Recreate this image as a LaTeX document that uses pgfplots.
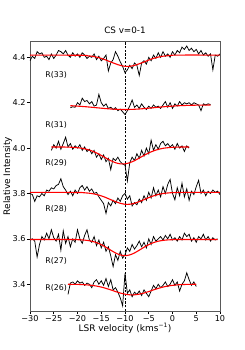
\documentclass[border=0pt]{standalone}
\usepackage{pgfplots}
\pgfplotsset{compat=1.18}
\usepackage{pgfplotstable}
\usepackage{fontspec}
\setmainfont{DejaVu Sans}

\pgfplotstableread{
x y
-30 4.385
-29.5 4.405
-29 4.395
-28.5 4.425
-28 4.415
-27.5 4.420
-27 4.400
-26.5 4.405
-26 4.390
-25.5 4.415
-25 4.395
-24.5 4.410
-24 4.430
-23.5 4.425
-23 4.415
-22.5 4.430
-22 4.410
-21.5 4.400
-21 4.420
-20.5 4.405
-20 4.415
-19.5 4.400
-19 4.420
-18.5 4.410
-18 4.395
-17.5 4.405
-17 4.400
-16.5 4.415
-16 4.390
-15.5 4.405
-15 4.385
-14.5 4.395
-14 4.410
-13.5 4.340
-13 4.375
-12.5 4.390
-12 4.425
-11.5 4.405
-11 4.380
-10.5 4.360
-10 4.332
-9.5 4.345
-9 4.365
-8.5 4.350
-8 4.375
-7.5 4.365
-7 4.320
-6.5 4.375
-6 4.385
-5.5 4.370
-5 4.400
-4.5 4.385
-4 4.410
-3.5 4.395
-3 4.420
-2.5 4.400
-2 4.425
-1.5 4.405
-1 4.415
-0.5 4.400
0 4.425
0.5 4.410
1 4.430
1.5 4.420
2 4.445
2.5 4.435
3 4.450
3.5 4.430
4 4.440
4.5 4.425
5 4.435
5.5 4.415
6 4.430
6.5 4.410
7 4.420
7.5 4.405
8 4.415
8.5 4.345
9 4.410
9.5 4.405
10 4.415
}\specA

\pgfplotstableread{
x y
-30 4.410
-19 4.409
-18 4.407
-17 4.405
-16 4.401
-15 4.3955
-14 4.388
-13 4.3795
-12 4.3715
-11 4.3645
-10 4.3605
-9 4.3605
-8 4.3645
-7 4.3715
-6 4.3795
-5 4.388
-4 4.3955
-3 4.401
-2 4.405
-1 4.407
0 4.409
1 4.410
10 4.410
}\fitA

\pgfplotstableread{
x y
-21.5 4.178
-21 4.182
-20.5 4.180
-20 4.200
-19.5 4.190
-19 4.220
-18.5 4.205
-18 4.210
-17.5 4.195
-17 4.205
-16.5 4.185
-16 4.190
-15.5 4.237
-15 4.200
-14.5 4.185
-14 4.195
-13.5 4.175
-13 4.180
-12.5 4.170
-12 4.178
-11.5 4.165
-11 4.172
-10.5 4.160
-10 4.148
-9.5 4.165
-9 4.185
-8.5 4.212
-8 4.180
-7.5 4.190
-7 4.175
-6.5 4.195
-6 4.180
-5.5 4.170
-5 4.185
-4.5 4.175
-4 4.190
-3.5 4.180
-3 4.185
-2.5 4.175
-2 4.190
-1.5 4.205
-1 4.180
-0.5 4.200
0 4.175
0.5 4.195
1 4.185
1.5 4.205
2 4.190
2.5 4.200
3 4.195
3.5 4.200
4 4.190
4.5 4.200
5 4.195
5.5 4.190
6 4.165
6.5 4.195
7 4.190
7.5 4.195
8 4.192
}\specB

\pgfplotstableread{
x y
-21.5 4.1868
-21 4.1863
-20 4.1850
-19 4.1835
-18 4.1818
-17 4.1799
-16 4.1779
-15 4.1759
-14 4.1740
-13 4.1724
-12 4.1711
-11 4.1703
-10 4.1700
-9 4.1703
-8 4.1711
-7 4.1724
-6 4.1740
-5 4.1759
-4 4.1779
-3 4.1799
-2 4.1818
-1 4.1835
0 4.1850
1 4.1863
2 4.1873
3 4.1881
4 4.1887
5 4.1891
6 4.1894
7 4.1896
8 4.1898
}\fitB

\pgfplotstableread{
x y
-25.5 3.990
-25 4.015
-24.5 4.000
-24 4.030
-23.5 3.995
-23 4.020
-22.5 4.048
-22 4.005
-21.5 4.020
-21 3.995
-20.5 4.010
-20 4.000
-19.5 4.015
-19 3.990
-18.5 4.005
-18 3.985
-17.5 3.995
-17 3.975
-16.5 3.990
-16 3.960
-15.5 3.975
-15 3.950
-14.5 3.970
-14 3.940
-13.5 3.955
-13 3.905
-12.5 3.955
-12 3.945
-11.5 3.960
-11 3.940
-10.5 3.930
-10 3.925
-9.5 3.855
-9 3.935
-8.5 3.960
-8 3.945
-7.5 3.975
-7 3.955
-6.5 3.990
-6 3.965
-5.5 4.000
-5 3.975
-4.5 4.035
-4 3.990
-3.5 4.015
-3 3.995
-2.5 4.020
-2 4.030
-1.5 4.010
-1 4.020
-0.5 4.005
0 4.015
0.5 3.995
1 4.020
1.5 4.000
2 4.010
2.5 3.985
3 4.010
3.5 4.000
}\specC

\pgfplotstableread{
x y
-25.5 4.0050
-24 4.0048
-23 4.0047
-22 4.0043
-21 4.0034
-20 4.0017
-19 3.9989
-18 3.9943
-17 3.9876
-16 3.9787
-15 3.9678
-14 3.9560
-13 3.9446
-12 3.9356
-11 3.9307
-10 3.9307
-9 3.9356
-8 3.9446
-7 3.9560
-6 3.9678
-5 3.9787
-4 3.9876
-3 3.9943
-2 3.9989
-1 4.0017
0 4.0034
1 4.0043
2 4.0047
3 4.0048
3.5 4.0049
}\fitC

\pgfplotstableread{
x y
-30 3.800
-29.5 3.795
-29 3.765
-28.5 3.790
-28 3.785
-27.5 3.800
-27 3.790
-26.5 3.815
-26 3.810
-25.5 3.825
-25 3.820
-24.5 3.835
-24 3.840
-23.5 3.865
-23 3.830
-22.5 3.815
-22 3.795
-21.5 3.810
-21 3.790
-20.5 3.815
-20 3.800
-19.5 3.825
-19 3.835
-18.5 3.815
-18 3.830
-17.5 3.810
-17 3.820
-16.5 3.800
-16 3.805
-15.5 3.785
-15 3.770
-14.5 3.755
-14 3.712
-13.5 3.760
-13 3.745
-12.5 3.770
-12 3.755
-11.5 3.780
-11 3.765
-10.5 3.790
-10 3.800
-9.5 3.775
-9 3.790
-8.5 3.745
-8 3.760
-7.5 3.750
-7 3.775
-6.5 3.760
-6 3.790
-5.5 3.770
-5 3.805
-4.5 3.780
-4 3.825
-3.5 3.790
-3 3.815
-2.5 3.785
-2 3.830
-1.5 3.800
-1 3.840
-0.5 3.862
0 3.800
0.5 3.772
1 3.825
1.5 3.790
2 3.845
2.5 3.785
3 3.820
3.5 3.770
4 3.810
4.5 3.795
5 3.830
5.5 3.858
6 3.800
6.5 3.815
7 3.790
7.5 3.810
8 3.800
8.5 3.815
9 3.805
9.5 3.810
10 3.795
}\specD

\pgfplotstableread{
x y
-30 3.8050
-20 3.8044
-19 3.8037
-18 3.8021
-17 3.7997
-16 3.7955
-15 3.7896
-14 3.7817
-13 3.7727
-12 3.7642
-11 3.7568
-10 3.7525
-9 3.7525
-8 3.7568
-7 3.7642
-6 3.7727
-5 3.7817
-4 3.7896
-3 3.7955
-2 3.7997
-1 3.8021
0 3.8037
1 3.8044
2 3.8050
10 3.8050
}\fitD

\pgfplotstableread{
x y
-30 3.595
-29.5 3.600
-29 3.590
-28.5 3.520
-28 3.575
-27.5 3.610
-27 3.595
-26.5 3.625
-26 3.600
-25.5 3.640
-25 3.605
-24.5 3.590
-24 3.620
-23.5 3.550
-23 3.635
-22.5 3.580
-22 3.610
-21.5 3.565
-21 3.600
-20.5 3.585
-20 3.640
-19.5 3.600
-19 3.580
-18.5 3.615
-18 3.640
-17.5 3.595
-17 3.585
-16.5 3.610
-16 3.570
-15.5 3.595
-15 3.560
-14.5 3.585
-14 3.545
-13.5 3.565
-13 3.525
-12.5 3.478
-12 3.530
-11.5 3.505
-11 3.545
-10.5 3.515
-10 3.530
-9.5 3.560
-9 3.545
-8.5 3.575
-8 3.555
-7.5 3.570
-7 3.590
-6.5 3.565
-6 3.585
-5.5 3.560
-5 3.600
-4.5 3.575
-4 3.610
-3.5 3.590
-3 3.600
-2.5 3.610
-2 3.595
-1.5 3.615
-1 3.600
-0.5 3.620
0 3.595
0.5 3.605
1 3.590
1.5 3.610
2 3.595
2.5 3.625
3 3.610
3.5 3.620
4 3.590
4.5 3.605
5 3.585
5.5 3.610
6 3.600
6.5 3.620
7 3.595
7.5 3.610
8 3.590
8.5 3.605
9 3.595
9.5 3.600
}\specE

\pgfplotstableread{
x y
-30 3.5970
-21 3.5970
-20 3.5963
-19 3.5953
-18 3.5932
-17 3.5895
-16 3.5834
-15 3.5745
-14 3.5629
-13 3.5500
-12 3.5379
-11 3.5292
-10 3.5260
-9 3.5292
-8 3.5379
-7 3.5500
-6 3.5629
-5 3.5745
-4 3.5834
-3 3.5895
-2 3.5932
-1 3.5953
0 3.5963
1 3.5970
9.5 3.5970
}\fitE

\pgfplotstableread{
x y
-22 3.355
-21.5 3.405
-21 3.410
-20.5 3.400
-20 3.415
-19.5 3.405
-19 3.410
-18.5 3.395
-18 3.405
-17.5 3.400
-17 3.385
-16.5 3.410
-16 3.420
-15.5 3.400
-15 3.415
-14.5 3.395
-14 3.425
-13.5 3.390
-13 3.420
-12.5 3.375
-12 3.385
-11.5 3.365
-11 3.340
-10.5 3.305
-10 3.448
-9.5 3.360
-9 3.375
-8.5 3.345
-8 3.365
-7.5 3.355
-7 3.370
-6.5 3.350
-6 3.375
-5.5 3.360
-5 3.345
-4.5 3.370
-4 3.395
-3.5 3.380
-3 3.400
-2.5 3.385
-2 3.395
-1.5 3.410
-1 3.390
-0.5 3.400
0 3.420
0.5 3.395
1 3.410
1.5 3.370
2 3.400
2.5 3.415
3 3.450
3.5 3.420
4 3.395
4.5 3.410
5 3.390
}\specF

\pgfplotstableread{
x y
-22 3.3998
-21 3.3996
-20 3.3992
-19 3.3985
-18 3.3972
-17 3.3951
-16 3.3919
-15 3.3875
-14 3.3817
-13 3.3750
-12 3.3679
-11 3.3613
-10 3.3562
-9 3.3534
-8 3.3534
-7 3.3562
-6 3.3613
-5 3.3679
-4 3.3750
-3 3.3817
-2 3.3875
-1 3.3919
0 3.3951
1 3.3972
2 3.3985
3 3.3992
4 3.3996
5 3.3998
}\fitF

\begin{document}
\begin{tikzpicture}
\begin{axis}[
  scale only axis, width=190pt, height=270pt,
  xmin=-30, xmax=10, ymin=3.282, ymax=4.472,
  xtick={-30,-25,-20,-15,-10,-5,0,5,10},
  xticklabels={−30,−25,−20,−15,−10,−5,0,5,10},
  ytick={3.4,3.6,3.8,4.0,4.2,4.4},
  yticklabels={3.4,3.6,3.8,4.0,4.2,4.4},
  tick align=outside, tick pos=left, major tick length=3pt,
  every tick/.style={black, line width=0.6pt},
  axis line style={black!65, line width=0.6pt},
  tick label style={font=\fontsize{8.1}{9}\selectfont, inner sep=1.3pt},
  title={CS v=0-1},
  title style={font=\fontsize{8.8}{10}\selectfont, at={(axis description cs:0.5,1.0185)}, anchor=center},
  xlabel={LSR velocity (kms\textsuperscript{−1})},
  xlabel style={font=\fontsize{9}{10}\selectfont, at={(axis description cs:0.5,-0.063)}, anchor=center},
  ylabel={Relative Intensity},
  ylabel style={font=\fontsize{9}{10}\selectfont, at={(axis description cs:-0.118,0.5)}, anchor=center},
  clip=true,
]
\coordinate (bl) at (rel axis cs:0,0);
\coordinate (tr) at (rel axis cs:1,1);
\addplot[black, line width=0.7pt, dash pattern=on 2.2pt off 1.5pt, forget plot] coordinates {(-10,3.282) (-10,4.472)};
\addplot[black, line width=0.75pt, no marks] table[x=x,y=y] {\specA};
\addplot[black, line width=0.75pt, no marks] table[x=x,y=y] {\specB};
\addplot[black, line width=0.75pt, no marks] table[x=x,y=y] {\specC};
\addplot[black, line width=0.75pt, no marks] table[x=x,y=y] {\specD};
\addplot[black, line width=0.75pt, no marks] table[x=x,y=y] {\specE};
\addplot[black, line width=0.75pt, no marks] table[x=x,y=y] {\specF};
\addplot[red, line width=1.1pt, no marks, smooth] table[x=x,y=y] {\fitA};
\addplot[red, line width=1.1pt, no marks, smooth] table[x=x,y=y] {\fitB};
\addplot[red, line width=1.1pt, no marks, smooth] table[x=x,y=y] {\fitC};
\addplot[red, line width=1.1pt, no marks, smooth] table[x=x,y=y] {\fitD};
\addplot[red, line width=1.1pt, no marks, smooth] table[x=x,y=y] {\fitE};
\addplot[red, line width=1.1pt, no marks, smooth] table[x=x,y=y] {\fitF};
\node[anchor=west, inner sep=0pt, font=\fontsize{7.8}{9}\selectfont] at (axis cs:-26.8,4.322) {R(33)};
\node[anchor=west, inner sep=0pt, font=\fontsize{7.8}{9}\selectfont] at (axis cs:-26.8,4.102) {R(31)};
\node[anchor=west, inner sep=0pt, font=\fontsize{7.8}{9}\selectfont] at (axis cs:-26.8,3.933) {R(29)};
\node[anchor=west, inner sep=0pt, font=\fontsize{7.8}{9}\selectfont] at (axis cs:-26.8,3.732) {R(28)};
\node[anchor=west, inner sep=0pt, font=\fontsize{7.8}{9}\selectfont] at (axis cs:-26.8,3.501) {R(27)};
\node[anchor=west, inner sep=0pt, font=\fontsize{7.8}{9}\selectfont] at (axis cs:-26.8,3.382) {R(26)};
\end{axis}
\pgfresetboundingbox
\path ([shift={(-30pt,-39pt)}]bl) rectangle ([shift={(25pt,41pt)}]tr);
\end{tikzpicture}
\end{document}
